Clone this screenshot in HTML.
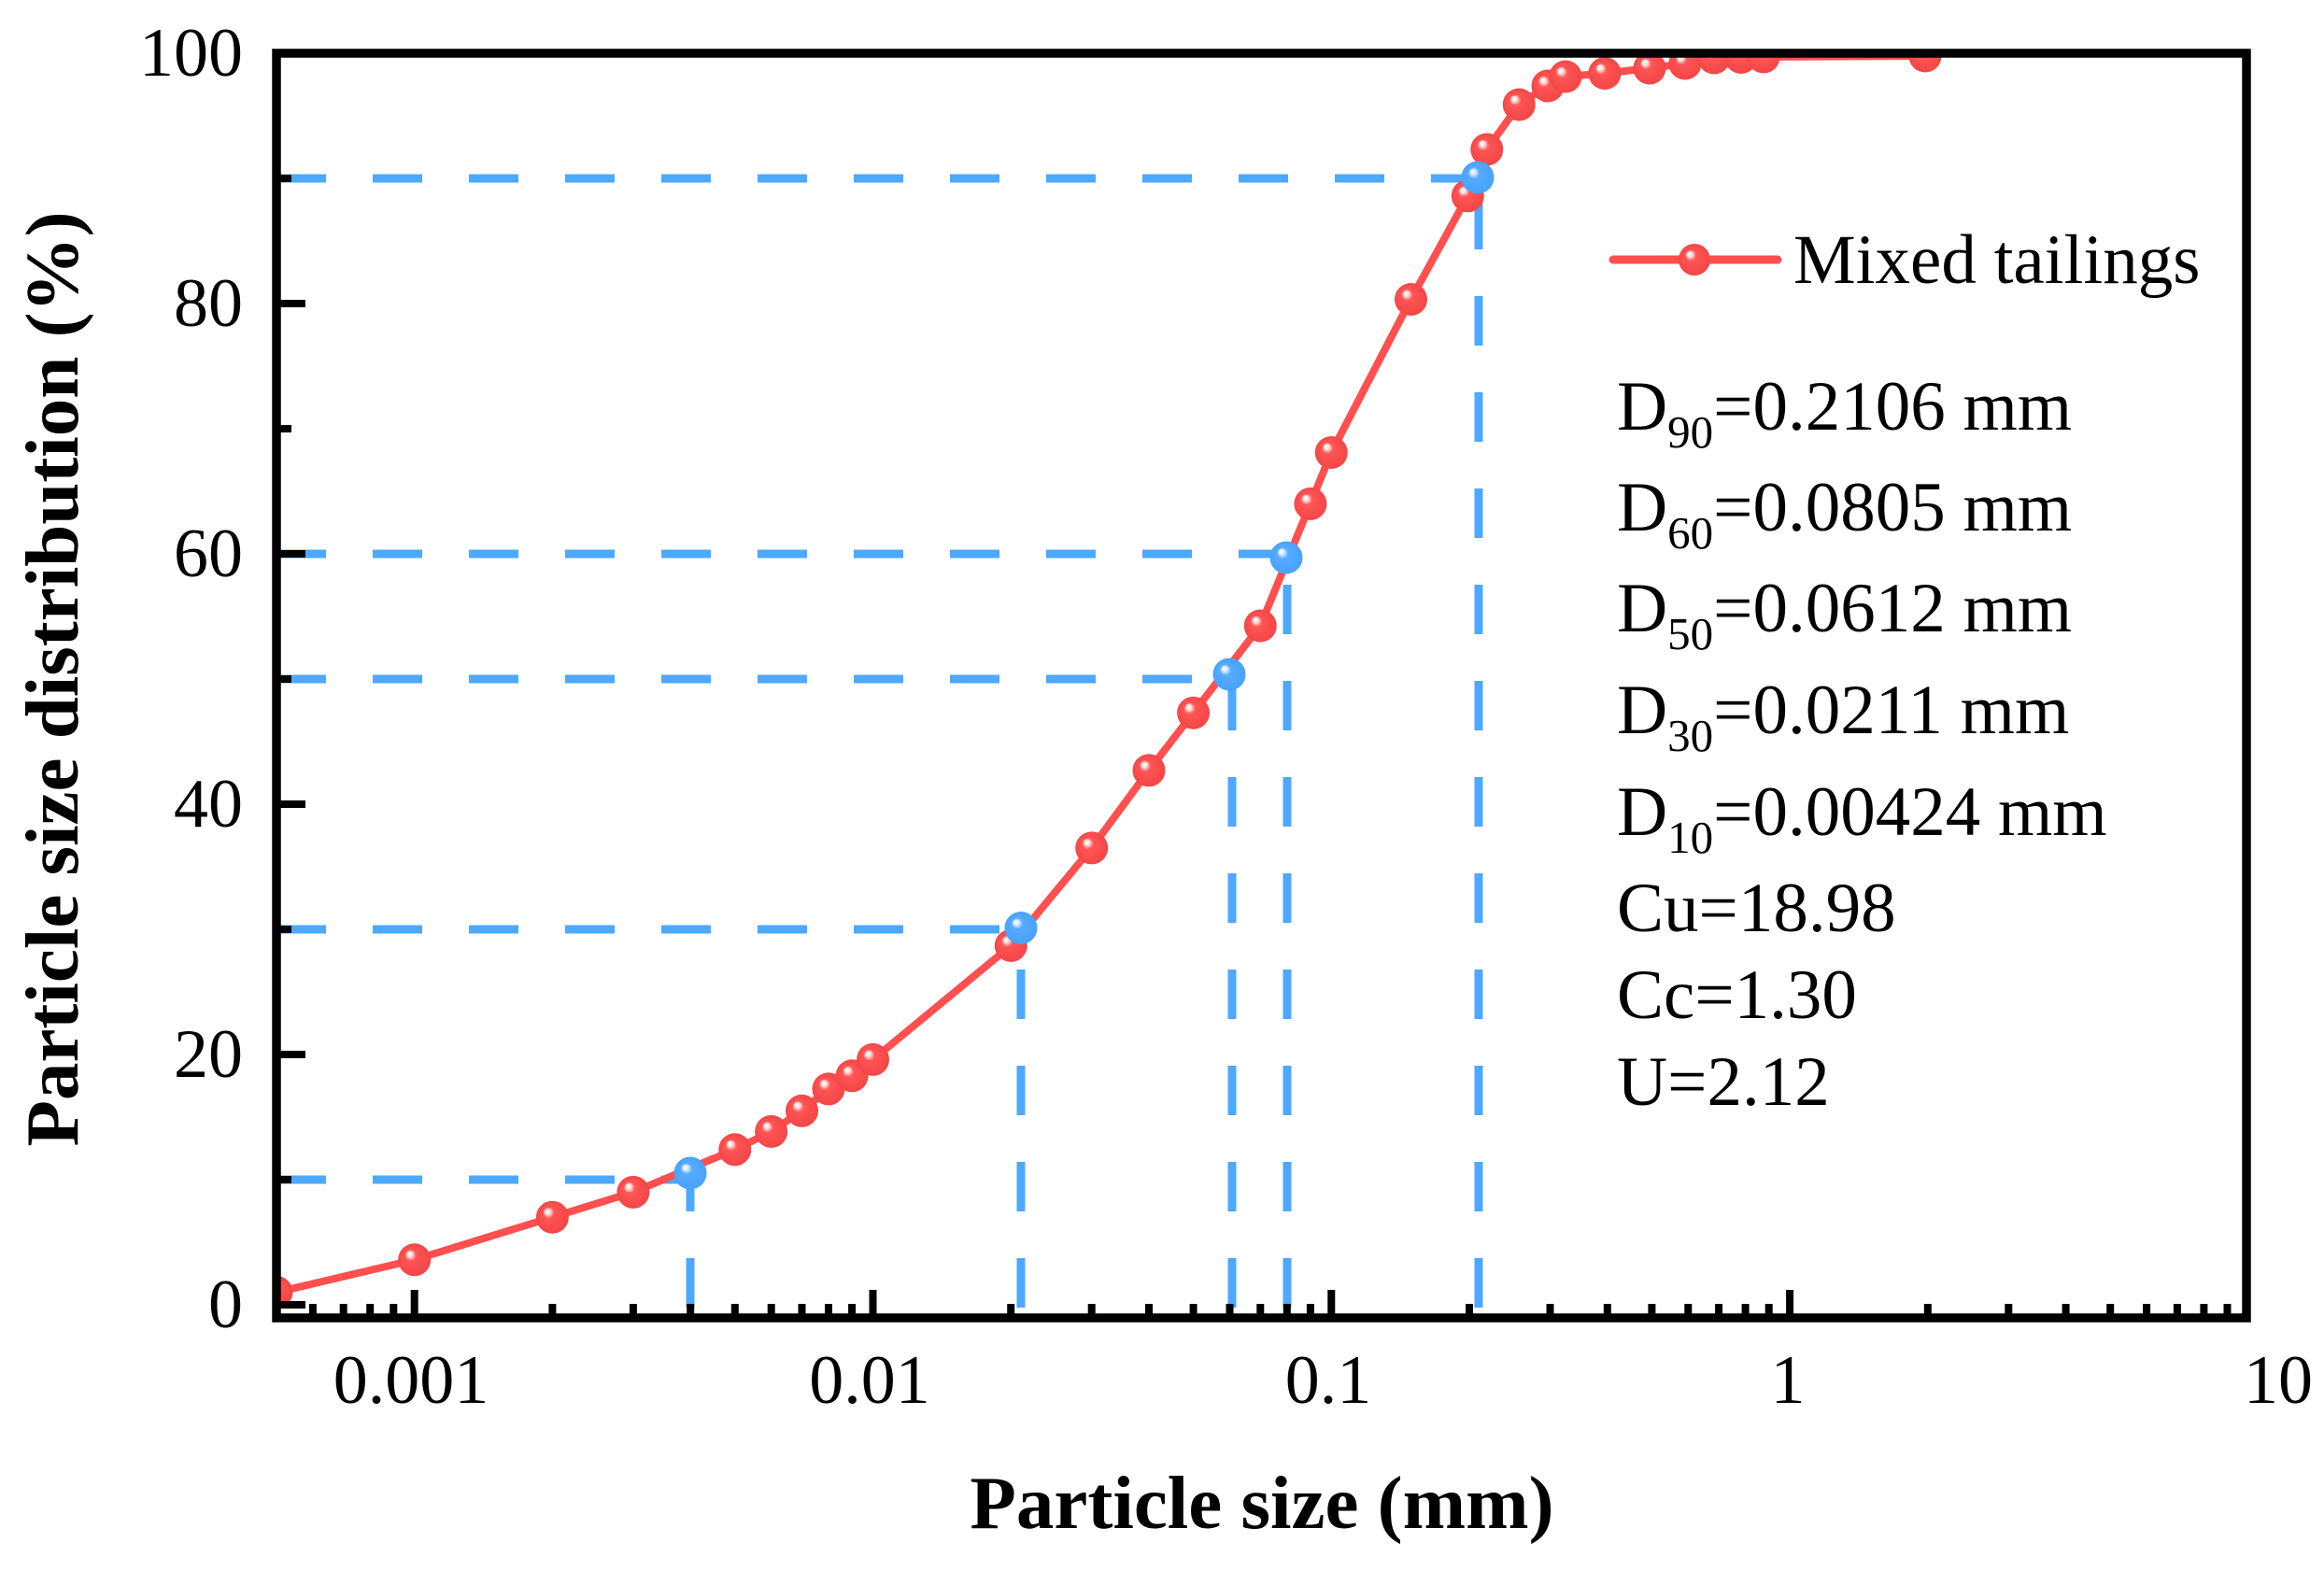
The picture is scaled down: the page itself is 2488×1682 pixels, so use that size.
<!DOCTYPE html>
<html>
<head>
<meta charset="utf-8">
<style>
html,body{margin:0;padding:0;background:#fff;}
svg{display:block;}
text{font-family:"Liberation Serif","Times New Roman",serif;fill:#000;}
</style>
</head>
<body>
<svg width="2488" height="1682" viewBox="0 0 2488 1682" xmlns="http://www.w3.org/2000/svg">
<defs>
  <radialGradient id="gr" cx="0.5" cy="0.5" r="0.5" fx="0.33" fy="0.3">
    <stop offset="0" stop-color="#ffffff"/>
    <stop offset="0.16" stop-color="#ffe0e0"/>
    <stop offset="0.34" stop-color="#ff5555"/>
    <stop offset="1" stop-color="#f44646"/>
  </radialGradient>
  <radialGradient id="gb" cx="0.5" cy="0.5" r="0.5" fx="0.33" fy="0.3">
    <stop offset="0" stop-color="#ffffff"/>
    <stop offset="0.16" stop-color="#d8ecff"/>
    <stop offset="0.34" stop-color="#55abff"/>
    <stop offset="1" stop-color="#48a2fb"/>
  </radialGradient>
  <clipPath id="plot">
    <rect x="296" y="57" width="2109" height="1354"/>
  </clipPath>
</defs>

<rect x="0" y="0" width="2488" height="1682" fill="#fff"/>

<g clip-path="url(#plot)">
  <!-- blue dashed guide lines -->
  <g stroke="#4DA8FF" stroke-width="9" fill="none" stroke-dasharray="53 50">
    <path d="M296 1263 H739"/>
    <path d="M739 1400 V1263"/>
    <path d="M296 995 H1093"/>
    <path d="M1093 1400 V995"/>
    <path d="M296 727 H1319"/>
    <path d="M1319 1400 V727"/>
    <path d="M296 593 H1378"/>
    <path d="M1378 1400 V593"/>
    <path d="M296 191 H1583"/>
    <path d="M1583 1400 V191"/>
  </g>

  <!-- red curve -->
  <polyline fill="none" stroke="#FF4F4F" stroke-width="8" stroke-linejoin="round"
    points="296,1383.6 443.7,1348.8 591.4,1303.2 677.9,1276.4 786.8,1230.8 825.7,1211.4 858.5,1189.3 887,1165.9 912.1,1151.8 934.5,1134.4 1082.3,1012.4 1168.7,907.9 1230,824.8 1277.6,763.2 1349.3,670 1402.9,539.4 1425.3,484.5 1510.5,320.5 1571.3,209.8 1591.8,160 1626.3,112 1657,92 1676,82 1718,78.5 1766,73 1804,68 1835,62 1864,61.5 1888,61 2061,60"/>

  <!-- red markers -->
  <g fill="url(#gr)">
    <circle cx="296" cy="1383.6" r="17.5"/>
    <circle cx="443.7" cy="1348.8" r="17.5"/>
    <circle cx="591.4" cy="1303.2" r="17.5"/>
    <circle cx="677.9" cy="1276.4" r="17.5"/>
    <circle cx="786.8" cy="1230.8" r="17.5"/>
    <circle cx="825.7" cy="1211.4" r="17.5"/>
    <circle cx="858.5" cy="1189.3" r="17.5"/>
    <circle cx="887" cy="1165.9" r="17.5"/>
    <circle cx="912.1" cy="1151.8" r="17.5"/>
    <circle cx="934.5" cy="1134.4" r="17.5"/>
    <circle cx="1082.3" cy="1012.4" r="17.5"/>
    <circle cx="1168.7" cy="907.9" r="17.5"/>
    <circle cx="1230" cy="824.8" r="17.5"/>
    <circle cx="1277.6" cy="763.2" r="17.5"/>
    <circle cx="1349.3" cy="670" r="17.5"/>
    <circle cx="1402.9" cy="539.4" r="17.5"/>
    <circle cx="1425.3" cy="484.5" r="17.5"/>
    <circle cx="1510.5" cy="320.5" r="17.5"/>
    <circle cx="1571.3" cy="209.8" r="17.5"/>
    <circle cx="1591.8" cy="160" r="17.5"/>
    <circle cx="1626.3" cy="112" r="17.5"/>
    <circle cx="1657" cy="92" r="17.5"/>
    <circle cx="1676" cy="82" r="17.5"/>
    <circle cx="1718" cy="78.5" r="17.5"/>
    <circle cx="1766" cy="73" r="17.5"/>
    <circle cx="1804" cy="68" r="17.5"/>
    <circle cx="1835" cy="62" r="17.5"/>
    <circle cx="1864" cy="61.5" r="17.5"/>
    <circle cx="1888" cy="61" r="17.5"/>
    <circle cx="2061" cy="60" r="17.5"/>
  </g>

  <!-- blue markers -->
  <g fill="url(#gb)">
    <circle cx="739" cy="1256" r="17.5"/>
    <circle cx="1093" cy="993.5" r="17.5"/>
    <circle cx="1316" cy="722" r="17.5"/>
    <circle cx="1377" cy="597" r="17.5"/>
    <circle cx="1582" cy="190" r="17.5"/>
  </g>
</g>

<!-- ticks -->
<g stroke="#000" stroke-width="8" fill="none">
  <!-- y major -->
  <path d="M296 1397 H327 M296 1129 H327 M296 861 H327 M296 593 H327 M296 325 H327 M296 57 H327"/>
  <!-- y minor -->
  <path d="M296 1263 H312 M296 995 H312 M296 727 H312 M296 459 H312 M296 191 H312"/>
  <!-- x major -->
  <path d="M443.7 1411 V1381 M934.5 1411 V1381 M1425.3 1411 V1381 M1916.1 1411 V1381"/>
  <!-- x minor -->
  <path d="M334.9 1411 V1396 M367.7 1411 V1396 M396.2 1411 V1396 M421.3 1411 V1396
           M591.4 1411 V1396 M677.9 1411 V1396 M739.2 1411 V1396 M786.8 1411 V1396 M825.7 1411 V1396 M858.5 1411 V1396 M887 1411 V1396 M912.1 1411 V1396
           M1082.2 1411 V1396 M1168.7 1411 V1396 M1230 1411 V1396 M1277.6 1411 V1396 M1316.5 1411 V1396 M1349.3 1411 V1396 M1377.8 1411 V1396 M1402.9 1411 V1396
           M1573 1411 V1396 M1659.5 1411 V1396 M1720.8 1411 V1396 M1768.4 1411 V1396 M1807.3 1411 V1396 M1840.1 1411 V1396 M1868.6 1411 V1396 M1893.7 1411 V1396
           M2063.8 1411 V1396 M2150.3 1411 V1396 M2211.6 1411 V1396 M2259.2 1411 V1396 M2298.1 1411 V1396 M2330.9 1411 V1396 M2359.4 1411 V1396 M2384.5 1411 V1396"/>
</g>

<!-- frame -->
<rect x="296" y="57" width="2109" height="1354" fill="none" stroke="#000" stroke-width="9.5"/>

<!-- y tick labels -->
<g font-size="74" text-anchor="end">
  <text x="260" y="1421">0</text>
  <text x="260" y="1153">20</text>
  <text x="260" y="885">40</text>
  <text x="260" y="617">60</text>
  <text x="260" y="349">80</text>
  <text x="260" y="81">100</text>
</g>

<!-- x tick labels -->
<g font-size="74" text-anchor="middle">
  <text x="440" y="1502">0.001</text>
  <text x="931" y="1502">0.01</text>
  <text x="1422" y="1502">0.1</text>
  <text x="1914" y="1502">1</text>
  <text x="2439" y="1502">10</text>
</g>

<!-- axis titles -->
<text x="1351" y="1636" font-size="81" font-weight="bold" text-anchor="middle">Particle size (mm)</text>
<text transform="translate(83,727) rotate(-90)" font-size="81" font-weight="bold" text-anchor="middle">Particle size distribution (%)</text>

<!-- legend -->
<line x1="1727" y1="278" x2="1903" y2="278" stroke="#FF4F4F" stroke-width="9" stroke-linecap="round"/>
<circle cx="1814" cy="278" r="17" fill="url(#gr)"/>
<text x="1920" y="303" font-size="75">Mixed tailings</text>

<!-- annotations -->
<g font-size="75">
  <text x="1731" y="460">D<tspan font-size="49" dy="19">90</tspan><tspan dy="-19">=0.2106 mm</tspan></text>
  <text x="1731" y="568">D<tspan font-size="49" dy="19">60</tspan><tspan dy="-19">=0.0805 mm</tspan></text>
  <text x="1731" y="676">D<tspan font-size="49" dy="19">50</tspan><tspan dy="-19">=0.0612 mm</tspan></text>
  <text x="1731" y="785">D<tspan font-size="49" dy="19">30</tspan><tspan dy="-19">=0.0211 mm</tspan></text>
  <text x="1731" y="894">D<tspan font-size="49" dy="19">10</tspan><tspan dy="-19">=0.00424 mm</tspan></text>
  <text x="1731" y="997">Cu=18.98</text>
  <text x="1731" y="1090">Cc=1.30</text>
  <text x="1731" y="1183">U=2.12</text>
</g>
</svg>
</body>
</html>
